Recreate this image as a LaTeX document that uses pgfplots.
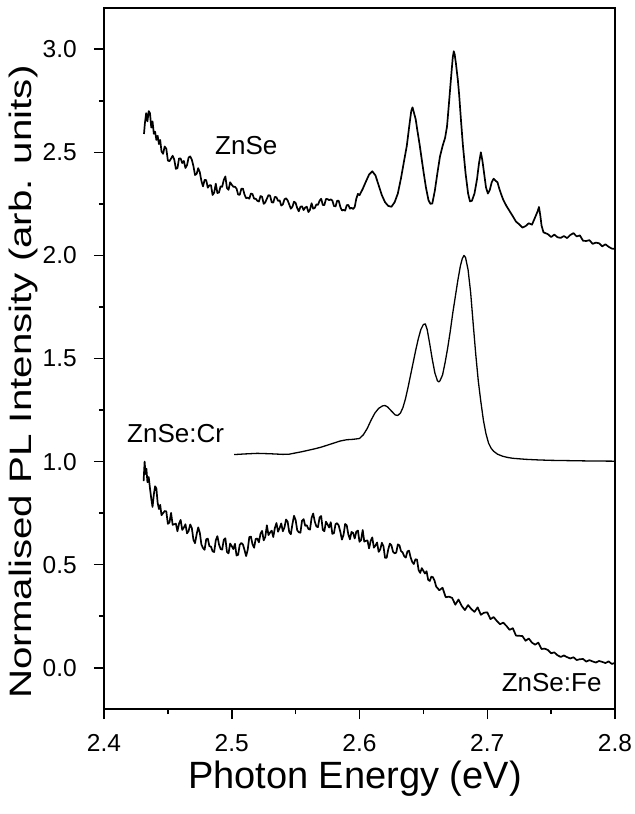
\documentclass[border=0pt]{standalone}
\usepackage{fontspec}
\setmainfont{Liberation Sans}
\usepackage{graphicx}
\usepackage{pgfplots}
\pgfplotsset{compat=1.18}

\begin{document}
\begin{tikzpicture}
\begin{axis}[
  scale only axis,
  width=511bp, height=701bp,
  xmin=2.4, xmax=2.8,
  ymin=-0.2, ymax=3.2,
  xtick={2.4,2.5,2.6,2.7,2.8},
  ytick={0,0.5,1,1.5,2,2.5,3},
  minor x tick num=1,
  minor y tick num=1,
  xtick pos=bottom, ytick pos=left,
  tick align=outside,
  major tick length=10bp,
  minor tick length=5bp,
  axis line style={line width=1.8bp},
  every tick/.style={black, line width=1.5bp},
  /pgf/number format/assume math mode=true,
  /pgf/number format/.cd, fixed, fixed zerofill, precision=1,
  /pgfplots/.cd,
  ticklabel style={font=\fontsize{24.5bp}{28bp}\selectfont},
  xticklabel style={anchor=base, inner sep=0pt, yshift=-32bp},
  yticklabel style={anchor=east, inner sep=0pt, xshift=-17bp},
  xlabel={Photon Energy (eV)},
  ylabel={\scalebox{1.3}[1]{Normalised PL Intensity (arb. units)}},
  xlabel style={font=\fontsize{38bp}{44bp}\selectfont, at={(axis description cs:0.491,-0.1127)}, anchor=base, inner sep=0pt},
  ylabel style={font=\fontsize{31bp}{36bp}\selectfont, at={(axis description cs:-0.186,0.4665)}, anchor=north, rotate=0, inner sep=0pt},
  clip=false,
  every axis plot/.append style={black, line join=round, no markers},
]

% ZnSe (undoped)
\addplot[line width=1.7bp] coordinates {
(2.4313,2.589) (2.4320,2.640) (2.4330,2.690) (2.4340,2.650) (2.4350,2.700)
(2.4360,2.690) (2.4370,2.620) (2.4380,2.650) (2.4390,2.590) (2.4400,2.600)
(2.4410,2.560) (2.4420,2.580) (2.4430,2.540) (2.4440,2.560)
(2.4450,2.505) (2.44625,2.4925) (2.4475,2.528) (2.44875,2.518) (2.4500,2.460)
(2.45125,2.457) (2.4525,2.470) (2.45375,2.4835) (2.4550,2.465) (2.45625,2.420)
(2.4575,2.423) (2.45875,2.4705) (2.4600,2.470) (2.46125,2.448) (2.4625,2.458)
(2.46375,2.424) (2.4650,2.438) (2.46625,2.475) (2.4675,2.480) (2.46875,2.4645)
(2.4700,2.433) (2.47125,2.390) (2.4725,2.395) (2.47375,2.423) (2.4750,2.403)
(2.47625,2.361) (2.4775,2.335) (2.47875,2.366) (2.4800,2.365) (2.48125,2.3285)
(2.4825,2.340) (2.48375,2.3405) (2.4850,2.293) (2.48625,2.3045) (2.4875,2.348)
(2.48875,2.3025) (2.4900,2.305) (2.49125,2.335) (2.4925,2.333) (2.49375,2.366)
(2.4950,2.383) (2.49625,2.3265) (2.4975,2.318) (2.49875,2.3545) (2.5000,2.343)
(2.50125,2.333) (2.5025,2.333) (2.50375,2.324) (2.5050,2.295) (2.50625,2.294)
(2.5075,2.323) (2.50875,2.324) (2.5100,2.295) (2.51125,2.2775) (2.5125,2.280)
(2.51375,2.275) (2.5150,2.300) (2.51625,2.2975) (2.5175,2.275) (2.51875,2.275)
(2.5200,2.265) (2.52125,2.2615) (2.5225,2.288) (2.52375,2.284) (2.5250,2.250)
(2.52625,2.2575) (2.5275,2.275) (2.52875,2.2925) (2.5300,2.290) (2.53125,2.258)
(2.5325,2.256) (2.53375,2.284) (2.5350,2.282) (2.53625,2.2645) (2.5375,2.267)
(2.53875,2.242) (2.5400,2.247) (2.54125,2.272) (2.5425,2.277) (2.54375,2.267)
(2.5450,2.247) (2.54625,2.2265) (2.5475,2.236) (2.54875,2.2605) (2.5500,2.255)
(2.55125,2.2295) (2.5525,2.214) (2.55375,2.236) (2.5550,2.238) (2.55625,2.220)
(2.5575,2.232) (2.55875,2.236) (2.5600,2.210) (2.56125,2.2215) (2.5625,2.253)
(2.56375,2.2265) (2.5650,2.230) (2.56625,2.2475) (2.5675,2.245) (2.56875,2.265)
(2.5700,2.275) (2.57125,2.2445) (2.5725,2.244) (2.57375,2.2735) (2.5750,2.273)
(2.57625,2.2675) (2.5775,2.272) (2.57875,2.266) (2.5800,2.240) (2.58125,2.2375)
(2.5825,2.265) (2.58375,2.265) (2.5850,2.235) (2.58625,2.218) (2.5875,2.221)
(2.58875,2.217) (2.5900,2.243) (2.59125,2.245) (2.5925,2.227) (2.59375,2.231)
(2.5950,2.225) (2.59625,2.235) (2.5975,2.275) (2.59875,2.2985)
(2.6000,2.292) (2.6025,2.322) (2.6050,2.358) (2.6075,2.392) (2.6100,2.408)
(2.6115,2.396) (2.6125,2.388) (2.6150,2.340) (2.6175,2.292) (2.6200,2.258)
(2.6225,2.240) (2.6250,2.236) (2.6275,2.258) (2.6300,2.300) (2.6325,2.375)
(2.6350,2.462) (2.6370,2.530) (2.6390,2.630) (2.6405,2.700) (2.6415,2.718)
(2.6425,2.695) (2.6440,2.660) (2.6450,2.618) (2.6470,2.540) (2.6500,2.410)
(2.6520,2.330) (2.6540,2.268) (2.6555,2.250) (2.6570,2.252) (2.6590,2.315)
(2.6610,2.400) (2.6630,2.480) (2.6650,2.530) (2.6670,2.570) (2.6685,2.625)
(2.6700,2.735) (2.6715,2.850) (2.6730,2.960) (2.6738,2.990) (2.6745,2.975)
(2.6755,2.930) (2.6770,2.850) (2.6780,2.780) (2.6795,2.650) (2.6810,2.530)
(2.6830,2.400) (2.6850,2.300) (2.6865,2.262) (2.6880,2.265) (2.6900,2.300)
(2.6920,2.370) (2.6935,2.445) (2.6950,2.500) (2.6962,2.460) (2.6975,2.400)
(2.6990,2.330) (2.7005,2.300) (2.7020,2.318) (2.7035,2.355) (2.7050,2.372)
(2.7065,2.362) (2.7080,2.355) (2.7095,2.322) (2.7110,2.295) (2.7125,2.270)
(2.7150,2.240) (2.7175,2.215) (2.7200,2.190)
(2.7225,2.164) (2.7250,2.151) (2.7275,2.135) (2.7300,2.142) (2.7325,2.156)
(2.7350,2.149) (2.7375,2.185) (2.7395,2.215) (2.7405,2.235) (2.7415,2.195)
(2.7425,2.145) (2.7440,2.112) (2.7475,2.103) (2.7500,2.089) (2.7525,2.101)
(2.7550,2.088) (2.7575,2.085) (2.7600,2.094) (2.7625,2.084) (2.7650,2.099)
(2.7675,2.108) (2.7700,2.092) (2.7725,2.097) (2.7750,2.071) (2.7775,2.070)
(2.7800,2.074) (2.7825,2.056) (2.7850,2.062) (2.7875,2.059) (2.7900,2.044)
(2.7925,2.054) (2.7950,2.042) (2.7975,2.033) (2.8000,2.032)
};

% ZnSe:Cr
\addplot[line width=1.3bp] coordinates {
(2.5018,1.034) (2.510,1.037) (2.520,1.040) (2.530,1.038) (2.540,1.035)
(2.545,1.036) (2.550,1.042) (2.555,1.048) (2.560,1.055) (2.565,1.062)
(2.570,1.070) (2.575,1.080) (2.580,1.090) (2.585,1.100) (2.590,1.106)
(2.595,1.108) (2.600,1.112) (2.603,1.130) (2.606,1.160) (2.609,1.200)
(2.612,1.235) (2.615,1.258) (2.618,1.270) (2.620,1.272) (2.622,1.265)
(2.625,1.245) (2.628,1.226) (2.630,1.224) (2.632,1.235) (2.634,1.262)
(2.636,1.305) (2.638,1.360) (2.640,1.420) (2.642,1.480) (2.644,1.540)
(2.646,1.595) (2.648,1.640) (2.650,1.665) (2.6515,1.668) (2.653,1.640)
(2.655,1.570) (2.657,1.495) (2.659,1.430) (2.661,1.392) (2.662,1.386)
(2.663,1.392) (2.665,1.420) (2.667,1.480) (2.669,1.550) (2.671,1.630)
(2.673,1.720) (2.675,1.800) (2.677,1.880) (2.679,1.950) (2.6805,1.985)
(2.6818,2.000) (2.683,1.990) (2.685,1.930) (2.687,1.820) (2.689,1.668)
(2.691,1.520) (2.693,1.390) (2.695,1.290) (2.697,1.200) (2.699,1.135)
(2.701,1.090) (2.703,1.065) (2.705,1.050) (2.708,1.036) (2.712,1.026)
(2.716,1.020) (2.720,1.016) (2.730,1.011) (2.740,1.008) (2.750,1.006)
(2.760,1.005) (2.780,1.003) (2.800,1.002)
};

% ZnSe:Fe
\addplot[line width=1.7bp] coordinates {
(2.4310,0.905) (2.4318,1.000) (2.4325,0.940) (2.4332,0.965) (2.4340,0.900)
(2.4350,0.925) (2.4360,0.870) (2.4370,0.820) (2.4380,0.780) (2.4390,0.840)
(2.4400,0.880) (2.4410,0.870) (2.4420,0.800) (2.4430,0.770) (2.4440,0.790)
(2.4450,0.740)
(2.4475,0.760) (2.44875,0.759) (2.4500,0.698) (2.45125,0.7045) (2.4525,0.751)
(2.45375,0.6935) (2.4550,0.696) (2.45625,0.699) (2.4575,0.662) (2.45875,0.6995)
(2.4600,0.717) (2.46125,0.6685) (2.4625,0.680) (2.46375,0.696) (2.4650,0.652)
(2.46625,0.6635) (2.4675,0.695) (2.46875,0.678) (2.4700,0.621) (2.47125,0.604)
(2.4725,0.647) (2.47375,0.681) (2.4750,0.655) (2.47625,0.598) (2.4775,0.581)
(2.47875,0.572) (2.4800,0.623) (2.48125,0.6265) (2.4825,0.590) (2.48375,0.5875)
(2.4850,0.565) (2.48625,0.5615) (2.4875,0.618) (2.48875,0.6385) (2.4900,0.599)
(2.49125,0.576) (2.4925,0.573) (2.49375,0.6205) (2.4950,0.628) (2.49625,0.5615)
(2.4975,0.555) (2.49875,0.6025) (2.5000,0.590) (2.50125,0.5755) (2.5025,0.601)
(2.50375,0.5445) (2.5050,0.548) (2.50625,0.5965) (2.5075,0.605) (2.50875,0.598)
(2.5100,0.571) (2.51125,0.5415) (2.5125,0.572) (2.51375,0.634) (2.5150,0.636)
(2.51625,0.599) (2.5175,0.582) (2.51875,0.6245) (2.5200,0.627) (2.52125,0.6085)
(2.5225,0.650) (2.52375,0.664) (2.5250,0.618) (2.52625,0.6345) (2.5275,0.691)
(2.52875,0.6435) (2.5300,0.656) (2.53125,0.665) (2.5325,0.634) (2.53375,0.678)
(2.5350,0.702) (2.53625,0.660) (2.5375,0.678) (2.53875,0.700) (2.5400,0.662)
(2.54125,0.6805) (2.5425,0.719) (2.54375,0.7085) (2.5450,0.658) (2.54625,0.6475)
(2.5475,0.697) (2.54875,0.737) (2.5500,0.717) (2.55125,0.667) (2.5525,0.657)
(2.55375,0.655) (2.5550,0.713) (2.55625,0.721) (2.5575,0.689) (2.55875,0.691)
(2.5600,0.673) (2.56125,0.670) (2.5625,0.727) (2.56375,0.748) (2.5650,0.709)
(2.56625,0.6855) (2.5675,0.682) (2.56875,0.729) (2.5700,0.736) (2.57125,0.669)
(2.5725,0.662) (2.57375,0.7085) (2.5750,0.695) (2.57625,0.6805) (2.5775,0.706)
(2.57875,0.6495) (2.5800,0.653) (2.58125,0.697) (2.5825,0.701) (2.58375,0.690)
(2.5850,0.659) (2.58625,0.6215) (2.5875,0.644) (2.58875,0.6975) (2.5900,0.691)
(2.59125,0.647) (2.5925,0.623) (2.59375,0.6585) (2.5950,0.654) (2.59625,0.627)
(2.5975,0.660) (2.59875,0.6655) (2.6000,0.611) (2.60125,0.6195) (2.6025,0.668)
(2.60375,0.612) (2.6050,0.616) (2.60625,0.6175) (2.6075,0.579) (2.60875,0.6155)
(2.6100,0.632) (2.61125,0.5825) (2.6125,0.593) (2.61375,0.6075) (2.6150,0.562)
(2.61625,0.574) (2.6175,0.606) (2.61875,0.5895) (2.6200,0.533) (2.62125,0.5335)
(2.6225,0.574) (2.62375,0.602) (2.6250,0.594) (2.62625,0.5625) (2.6275,0.555)
(2.62875,0.5585) (2.6300,0.598) (2.63125,0.594) (2.6325,0.566) (2.63375,0.5595)
(2.6350,0.541) (2.63625,0.5345) (2.6375,0.564) (2.63875,0.568) (2.6400,0.536)
(2.64125,0.5135) (2.6425,0.503) (2.64375,0.526) (2.6450,0.525) (2.64625,0.4745)
(2.6475,0.460) (2.64875,0.483) (2.6500,0.470) (2.65125,0.457) (2.6525,0.468)
(2.65375,0.4265) (2.6550,0.421) (2.65625,0.442) (2.6575,0.439) (2.65875,0.4225)
(2.6600,0.394) (2.6625,0.376) (2.6650,0.388) (2.6675,0.342) (2.6700,0.345)
(2.6725,0.339) (2.6750,0.306) (2.6775,0.331) (2.6800,0.300) (2.6825,0.280)
(2.6850,0.304) (2.6875,0.285) (2.6900,0.271) (2.6925,0.293) (2.6950,0.257)
(2.6975,0.267) (2.7000,0.269) (2.7025,0.236) (2.7050,0.246) (2.7075,0.227)
(2.7100,0.211) (2.7125,0.219) (2.7150,0.203) (2.7175,0.184) (2.7200,0.192)
(2.7225,0.156) (2.7250,0.155) (2.7275,0.154) (2.7300,0.131) (2.7325,0.142)
(2.7350,0.122) (2.7375,0.112) (2.7400,0.122) (2.7425,0.091) (2.7450,0.093)
(2.7475,0.086) (2.7500,0.0705) (2.7525,0.0745) (2.7550,0.0605) (2.7575,0.0525)
(2.7600,0.0595) (2.7625,0.0515) (2.7650,0.045) (2.7675,0.051) (2.7700,0.0375)
(2.7725,0.0415) (2.7750,0.0425) (2.7775,0.030) (2.7800,0.037) (2.7825,0.0305)
(2.7850,0.0255) (2.7875,0.033) (2.7900,0.0285) (2.7925,0.023) (2.7950,0.031)
(2.7975,0.0185) (2.8000,0.024)
};

% curve labels
\node[anchor=base west, inner sep=0pt, font=\fontsize{26bp}{30bp}\selectfont] at (axis cs:2.4869,2.489) {ZnSe};
\node[anchor=base west, inner sep=0pt, font=\fontsize{26bp}{30bp}\selectfont] at (axis cs:2.418,1.095) {ZnSe:Cr};
\node[anchor=base east, inner sep=0pt, font=\fontsize{26bp}{30bp}\selectfont] at (axis cs:2.7896,-0.116) {ZnSe:Fe};
\end{axis}
% page extent around the axis box
\path ([shift={(-104bp,-105bp)}]current axis.south west) rectangle ([shift={(20bp,8bp)}]current axis.north east);
\end{tikzpicture}
\end{document}
